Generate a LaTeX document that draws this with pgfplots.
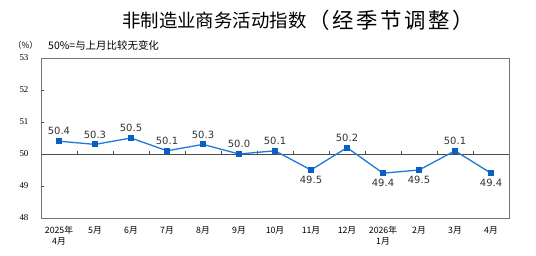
\documentclass[border=0pt]{standalone}
\usepackage{pgfplots}
\pgfplotsset{compat=1.18}
\usepackage{pgfplotstable}
\usepackage{fontspec}
\setmainfont{Liberation Serif}
\newfontfamily\cjk{Noto Sans CJK SC}
\newfontfamily\dejavu{DejaVu Sans}
\definecolor{lineblue}{HTML}{1F78D8}
\definecolor{markblue}{HTML}{0B5FC4}
\pgfplotstableread{
x y
0 50.4
1 50.3
2 50.5
3 50.1
4 50.3
5 50.0
6 50.1
7 49.5
8 50.2
9 49.4
10 49.5
11 50.1
12 49.4
}\datatable
\pgfplotstableread{
x y
0 50.4
1 50.3
2 50.5
3 50.1
4 50.3
5 50.0
6 50.1
8 50.2
11 50.1
}\abovetable
\pgfplotstableread{
x y
7 49.5
9 49.4
10 49.5
12 49.4
}\belowtable
\pgfplotstableread{
x y
0.5 50
1.5 50
2.5 50
3.5 50
4.5 50
5.5 50
6.5 50
7.5 50
8.5 50
9.5 50
10.5 50
11.5 50
}\ticktable
\begin{document}
\begin{tikzpicture}
\path[use as bounding box] (-41bp,-38bp) rectangle (495bp,218bp);
\begin{axis}[
  at={(0,0)}, anchor=south west,
  scale only axis, width=468bp, height=160bp,
  xmin=-0.5, xmax=12.5, ymin=48, ymax=53,
  ytick={48,49,50,51,52,53},
  yticklabel style={font=\fontsize{9}{10}\selectfont, xshift=-9bp},
  /pgf/number format/assume math mode=true,
  xtick={0,...,12},
  xticklabels={{2025年\\4月},5月,6月,7月,8月,9月,10月,11月,12月,{2026年\\1月},2月,3月,4月},
  xticklabel style={font=\cjk\fontsize{8.8}{10.5}\selectfont, align=center, anchor=north, yshift=-5bp},
  x tick style={draw=none},
  y tick style={draw=darkgray, line width=0.6pt},
  major tick length=3bp,
  tick align=inside,
  ytick pos=left,
  axis line style={draw=gray!90!black, line width=0.8pt},
  clip=false,
  every node near coord/.append style={font=\dejavu\fontsize{10}{11}\selectfont, text=black!80, inner sep=6bp},
  nodes near coords={\pgfmathprintnumber[fixed, fixed zerofill, precision=1]{\pgfplotspointmeta}},
]
\addplot[draw=black!70, line width=0.8pt, forget plot, nodes near coords={}] coordinates {(-0.5,50) (12.5,50)};
\addplot[draw=none, mark=none, forget plot, nodes near coords={},
  error bars/.cd, y dir=plus, y fixed=0.1, error mark=none,
  error bar style={draw=black!70, line width=0.6pt}] table[x=x,y=y] {\ticktable};
\addplot[color=lineblue, line width=1.3pt, mark=square*,
  mark options={fill=markblue, draw=markblue, mark size=2.3pt},
  nodes near coords={}] table[x=x, y=y] {\datatable};
\addplot[draw=none, mark=none, nodes near coords align={above}] table[x=x, y=y] {\abovetable};
\addplot[draw=none, mark=none, nodes near coords align={below}] table[x=x, y=y] {\belowtable};
\end{axis}
\node[font=\cjk\fontsize{18.5}{20}\selectfont, anchor=west, inner sep=0pt] at (81bp,198bp) {非制造业商务活动指数};
\node[font=\cjk\fontsize{21.5}{23}\selectfont, anchor=west, inner sep=0pt] at (267bp,198bp) {（\hspace{0.12em}经\hspace{0.12em}季\hspace{0.12em}节\hspace{0.12em}调\hspace{0.12em}整\hspace{0.12em}）};
\node[font=\cjk\fontsize{8.5}{10}\selectfont, anchor=west, inner sep=0pt] at (-28bp,173bp) {（\%）};
\node[font=\cjk\fontsize{10.5}{12}\selectfont, anchor=west, inner sep=0pt] at (7bp,173bp) {50\%=与上月比较无变化};
\end{tikzpicture}
\end{document}
